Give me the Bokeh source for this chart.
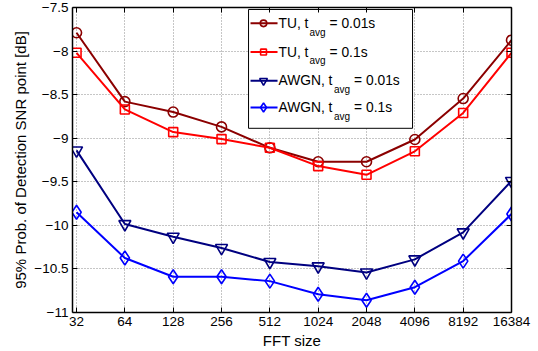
import math
from bokeh.plotting import figure
from bokeh.models import (FixedTicker, LogAxis, LinearAxis, Label, Range1d,
                          BasicTickFormatter)
from bokeh.embed import file_html
from bokeh.resources import INLINE

# ---------------- data ----------------
fft_sizes = [32, 64, 128, 256, 512, 1024, 2048, 4096, 8192, 16384]
tu_001 = [-7.79, -8.58, -8.70, -8.87, -9.11, -9.27, -9.27, -9.015, -8.545, -7.875]
tu_01 = [-8.02, -8.67, -8.93, -9.01, -9.11, -9.32, -9.42, -9.15, -8.71, -8.02]
awgn_001 = [-9.14, -9.985, -10.13, -10.26, -10.42, -10.47, -10.54, -10.39, -10.08, -9.49]
awgn_01 = [-9.85, -10.375, -10.59, -10.59, -10.64, -10.79, -10.86, -10.71, -10.41, -9.87]
y_ticks = [-11, -10.5, -10, -9.5, -9, -8.5, -8, -7.5]

series = [
    ("TU, t", "= 0.01s", tu_001, "#8b0000", "circle", 10),
    ("TU, t", "= 0.1s", tu_01, "#ff0000", "square", 9),
    ("AWGN, t", "= 0.01s", awgn_001, "#000080", "inverted_triangle", 12),
    ("AWGN, t", "= 0.1s", awgn_01, "#0000ff", "diamond", 14),
]

FONT = "Liberation Sans"
X_LO, X_HI = 30.2, 16384
Y_LO, Y_HI = -11, -7.5

p = figure(width=538, height=351, x_axis_type="log",
           x_range=Range1d(X_LO, X_HI), y_range=Range1d(Y_LO, Y_HI),
           output_backend="svg", toolbar_location=None,
           min_border_left=72, min_border_right=27, min_border_top=7,
           min_border_bottom=36)
p.outline_line_color = None
p.background_fill_color = "white"
p.border_fill_color = "white"

# axes
xt = FixedTicker(ticks=fft_sizes, minor_ticks=[])
yt = FixedTicker(ticks=y_ticks, minor_ticks=[])
ylabels = {v: ("\u2212" + f"{abs(v):g}") for v in y_ticks}

for ax in p.xaxis:
    ax.ticker = xt
    ax.formatter = BasicTickFormatter(use_scientific=False)
    ax.axis_label = "FFT size"
for ax in p.yaxis:
    ax.ticker = yt
    ax.major_label_overrides = ylabels
    ax.axis_label = "95% Prob. of Detection SNR point [dB]"

for ax in list(p.xaxis) + list(p.yaxis):
    ax.major_tick_in = 5
    ax.major_tick_out = 0
    ax.minor_tick_line_color = None
    ax.axis_line_width = 1.5
    ax.major_tick_line_width = 1
    ax.axis_line_color = "black"
    ax.major_label_text_font = FONT
    ax.major_label_text_font_size = "13.5px"
    ax.major_label_text_color = "black"
    ax.axis_label_text_font = FONT
    ax.axis_label_text_font_size = "15px"
    ax.axis_label_text_font_style = "normal"
    ax.axis_label_text_color = "black"
    ax.major_label_standoff = 4
    ax.axis_label_standoff = 3
p.yaxis[0].axis_label_standoff = 2

top = LogAxis(ticker=xt, major_label_overrides={t: "" for t in fft_sizes},
              major_label_text_font_size="1px", major_tick_in=5,
              major_tick_out=0, axis_line_width=1.5, major_label_standoff=0,
              minor_tick_line_color=None)
right = LinearAxis(ticker=yt, major_label_overrides={t: "" for t in y_ticks},
                   major_label_text_font_size="1px", major_tick_in=5,
                   major_tick_out=0, axis_line_width=1.5, major_label_standoff=0,
                   minor_tick_line_color=None)
p.add_layout(top, "above")
p.add_layout(right, "right")

# grid
for g in (p.xgrid, p.ygrid):
    g.grid_line_color = "#8c8c8c"
    g.grid_line_dash = "1 2"
    g.grid_line_width = 1
p.xgrid.ticker = xt
p.ygrid.ticker = yt

# data lines
for _, _, ys, col, mk, sz in series:
    p.line(fft_sizes, ys, line_color=col, line_width=2)
    p.scatter(fft_sizes, ys, marker=mk, size=sz, line_color=col,
              line_width=1.6, fill_color=None)

# ---------- legend (layout helpers: reference pixel -> data) ----------
def px_x(px):
    # 32 at px 76, 48.33 px per octave
    return 32 * 2 ** ((px - 76) / 48.33)

def px_y(py):
    # -7.5 at py 7, -11 at py 315
    return -7.5 - (py - 7) / 308 * 3.5

p.quad(left=[px_x(248)], right=[px_x(412)], top=[px_y(9)], bottom=[px_y(129)],
       fill_color="white", line_color="black", line_width=1)

W = {"T": 611, "U": 722, ",": 278, " ": 278, "t": 278, "A": 667, "W": 944,
     "G": 778, "N": 722, "=": 584, "0": 556, ".": 278, "1": 556, "s": 500,
     "a": 556, "v": 500, "g": 556}

def tw(s, size):
    return sum(W.get(c, 556) for c in s) * size / 1000

rows = [23, 52, 81, 108]
fs, ss = 13.8, 10
for (main, tail, ys, col, mk, sz), ry in zip(series, rows):
    p.line([px_x(250), px_x(277)], [px_y(ry), px_y(ry)], line_color=col,
           line_width=2)
    p.scatter([px_x(263)], [px_y(ry)], marker=mk, size=sz * 0.65,
              line_color=col, line_width=1.6, fill_color=None)
    x0 = 278
    x1 = x0 + tw(main, fs) + 1
    x2 = x1 + tw("avg", ss) + 4
    p.add_layout(Label(x=px_x(x0), y=px_y(ry), text=main, text_font=FONT,
                       text_font_size=f"{fs}px", text_baseline="middle",
                       text_color="black"))
    p.add_layout(Label(x=px_x(x1), y=px_y(ry + 9), text="avg", text_font=FONT,
                       text_font_size=f"{ss}px", text_baseline="middle",
                       text_color="black"))
    p.add_layout(Label(x=px_x(x2), y=px_y(ry), text=tail, text_font=FONT,
                       text_font_size=f"{fs}px", text_baseline="middle",
                       text_color="black"))

open("out.html", "w").write(file_html(p, INLINE))
